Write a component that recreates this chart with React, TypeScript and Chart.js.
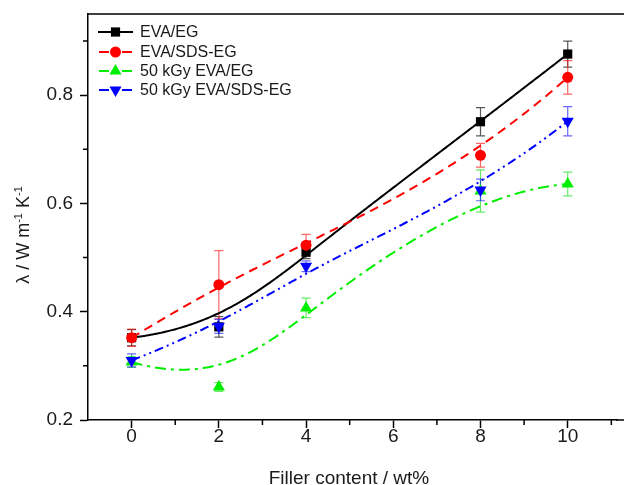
import React, { useEffect, useRef } from 'react';
import { Chart, registerables } from 'chart.js';

Chart.register(...registerables);

// ---- data ----
const xValues = [0, 2, 4, 8, 10];
const seriesNames = ['EVA/EG', 'EVA/SDS-EG', '50 kGy EVA/EG', '50 kGy EVA/SDS-EG'];
const evaEg = [0.352, 0.372, 0.51, 0.751, 0.876];
const evaEgErr = [0.015, 0.019, 0.012, 0.026, 0.024];
const evaSdsEg = [0.352, 0.45, 0.523, 0.689, 0.833];
const evaSdsEgErr = [0.016, 0.063, 0.02, 0.022, 0.031];
const irrEvaEg = [0.307, 0.261, 0.407, 0.623, 0.636];
const irrEvaEgErr = [0.01, 0.008, 0.018, 0.039, 0.022];
const irrEvaSdsEg = [0.31, 0.373, 0.484, 0.625, 0.752];
const irrEvaSdsEgErr = [0.012, 0.013, 0.01, 0.02, 0.027];
const xTicks = [0, 2, 4, 6, 8, 10];
const xMinorTicks = [1, 3, 5, 7, 9, 11];
const yTicks = [0.2, 0.4, 0.6, 0.8];
const yMinorTicks = [0.3, 0.5, 0.7, 0.9];

const seriesValues = [evaEg, evaSdsEg, irrEvaEg, irrEvaSdsEg];
const seriesErrors = [evaEgErr, evaSdsEgErr, irrEvaEgErr, irrEvaSdsEgErr];

// ---- styles ----
const colors = ['#000000', '#ff0000', '#00ee00', '#0000ff'];
const errColors = ['rgba(0,0,0,0.65)', 'rgba(255,0,0,0.6)', 'rgba(0,220,0,0.6)', 'rgba(0,0,255,0.6)'];
const dashes: number[][] = [[], [9, 6], [11, 5, 3, 5], [9, 4, 2, 4, 2, 4]];
const pointStyles = ['rect', 'circle', 'triangle', 'triangle'];
const pointRotations = [0, 0, 0, 180];
const pointRadii = [6.5, 5.5, 7, 7];
const FONT = '"Liberation Sans", Arial, sans-serif';
const TEXT = '#1a1a1a';

function bspline(px: number[], py: number[], samples = 240): [number, number][] {
  const n = px.length;
  const k = 3;
  if (n <= k) return px.map((x, i) => [x, py[i]]);
  const m = n - k;
  const knots: number[] = [];
  for (let i = 0; i <= k; i++) knots.push(0);
  for (let i = 1; i < m; i++) knots.push(i);
  for (let i = 0; i <= k; i++) knots.push(m);
  const N = (i: number, p: number, t: number): number => {
    if (p === 0) {
      if (knots[i] <= t && t < knots[i + 1]) return 1;
      if (t === m && knots[i] < t && knots[i + 1] === t) return 1;
      return 0;
    }
    let a = 0, b = 0;
    const d1 = knots[i + p] - knots[i];
    if (d1 > 0) a = ((t - knots[i]) / d1) * N(i, p - 1, t);
    const d2 = knots[i + p + 1] - knots[i + 1];
    if (d2 > 0) b = ((knots[i + p + 1] - t) / d2) * N(i + 1, p - 1, t);
    return a + b;
  };
  const out: [number, number][] = [];
  for (let s = 0; s <= samples; s++) {
    const t = (s / samples) * m;
    let x = 0, y = 0;
    for (let i = 0; i < n; i++) {
      const w = N(i, k, t);
      x += w * px[i];
      y += w * py[i];
    }
    out.push([x, y]);
  }
  return out;
}

function drawMarker(ctx: CanvasRenderingContext2D, idx: number, x: number, y: number) {
  const r = pointRadii[idx];
  ctx.save();
  ctx.fillStyle = colors[idx];
  ctx.beginPath();
  const style = pointStyles[idx];
  if (style === 'rect') {
    const h = Math.SQRT1_2 * r;
    ctx.rect(x - h, y - h, 2 * h, 2 * h);
  } else if (style === 'circle') {
    ctx.arc(x, y, r, 0, Math.PI * 2);
  } else {
    let rad = (pointRotations[idx] * Math.PI) / 180;
    ctx.moveTo(x + Math.sin(rad) * r, y - Math.cos(rad) * r);
    rad += (2 * Math.PI) / 3;
    ctx.lineTo(x + Math.sin(rad) * r, y - Math.cos(rad) * r);
    rad += (2 * Math.PI) / 3;
    ctx.lineTo(x + Math.sin(rad) * r, y - Math.cos(rad) * r);
    ctx.closePath();
  }
  ctx.fill();
  ctx.restore();
}

const decorPlugin = {
  id: 'decor',
  beforeDatasetsDraw(chart: any) {
    const ctx: CanvasRenderingContext2D = chart.ctx;
    const xs = chart.scales.x;
    const ys = chart.scales.y;
    const area = chart.chartArea;
    ctx.save();
    ctx.beginPath();
    ctx.rect(area.left, area.top, chart.width - area.left, area.bottom - area.top);
    ctx.clip();
    // error bars
    seriesValues.forEach((vals, si) => {
      ctx.save();
      ctx.strokeStyle = errColors[si];
      ctx.lineWidth = 1.2;
      vals.forEach((v, i) => {
        const px = xs.getPixelForValue(xValues[i]);
        const top = ys.getPixelForValue(v + seriesErrors[si][i]);
        const bot = ys.getPixelForValue(v - seriesErrors[si][i]);
        ctx.beginPath();
        ctx.moveTo(px, top);
        ctx.lineTo(px, bot);
        ctx.moveTo(px - 4.5, top);
        ctx.lineTo(px + 4.5, top);
        ctx.moveTo(px - 4.5, bot);
        ctx.lineTo(px + 4.5, bot);
        ctx.stroke();
      });
      ctx.restore();
    });
    // B-spline curves
    seriesValues.forEach((vals, si) => {
      const px = xValues.map((x) => xs.getPixelForValue(x));
      const py = vals.map((v) => ys.getPixelForValue(v));
      const pts = bspline(px, py);
      ctx.save();
      ctx.strokeStyle = colors[si];
      ctx.lineWidth = 2;
      ctx.setLineDash(dashes[si]);
      ctx.beginPath();
      pts.forEach(([x, y], i) => (i === 0 ? ctx.moveTo(x, y) : ctx.lineTo(x, y)));
      ctx.stroke();
      ctx.restore();
    });
    ctx.restore();
  },
  afterDraw(chart: any) {
    const ctx: CanvasRenderingContext2D = chart.ctx;
    const xs = chart.scales.x;
    const ys = chart.scales.y;
    const area = chart.chartArea;
    ctx.save();
    // frame lines extended to the canvas edge
    ctx.strokeStyle = '#000';
    ctx.lineWidth = 1.5;
    ctx.beginPath();
    ctx.moveTo(area.left, area.top);
    ctx.lineTo(chart.width, area.top);
    ctx.moveTo(area.right - 1, area.bottom);
    ctx.lineTo(chart.width, area.bottom);
    ctx.stroke();
    // minor ticks
    ctx.beginPath();
    xMinorTicks.forEach((v) => {
      const p = xs.getPixelForValue(v);
      if (p < area.left || p > chart.width) return;
      ctx.moveTo(p, area.bottom);
      ctx.lineTo(p, area.bottom + 5);
    });
    yMinorTicks.forEach((v) => {
      const p = ys.getPixelForValue(v);
      if (p < area.top || p > area.bottom) return;
      ctx.moveTo(area.left, p);
      ctx.lineTo(area.left - 5, p);
    });
    ctx.stroke();

    // x title
    ctx.fillStyle = TEXT;
    ctx.font = `19px ${FONT}`;
    ctx.textAlign = 'center';
    ctx.textBaseline = 'alphabetic';
    ctx.fillText('Filler content / wt%', 349, 484);

    // y title with superscripts
    ctx.save();
    ctx.translate(29, 235);
    ctx.rotate(-Math.PI / 2);
    const big = `18px ${FONT}`;
    const small = `11px ${FONT}`;
    const parts: [string, boolean][] = [
      ['λ / W m', false],
      ['-1', true],
      [' K', false],
      ['-1', true],
    ];
    let total = 0;
    parts.forEach(([t, sup]) => {
      ctx.font = sup ? small : big;
      total += ctx.measureText(t).width;
    });
    let cx = -total / 2;
    ctx.textAlign = 'left';
    parts.forEach(([t, sup]) => {
      ctx.font = sup ? small : big;
      ctx.fillText(t, cx, sup ? -7 : 0);
      cx += ctx.measureText(t).width;
    });
    ctx.restore();

    // legend
    const rowY = [32, 52, 71, 90];
    seriesNames.forEach((name, i) => {
      const y = rowY[i];
      ctx.save();
      ctx.strokeStyle = colors[i];
      ctx.lineWidth = 2;
      ctx.beginPath();
      if (i === 0) {
        ctx.moveTo(98, y);
        ctx.lineTo(133, y);
      } else {
        ctx.moveTo(99, y);
        ctx.lineTo(109, y);
        ctx.moveTo(122, y);
        ctx.lineTo(132, y);
      }
      ctx.stroke();
      ctx.restore();
      drawMarker(ctx, i, 115.5, y);
      ctx.fillStyle = TEXT;
      ctx.font = `16px ${FONT}`;
      ctx.textAlign = 'left';
      ctx.textBaseline = 'middle';
      ctx.fillText(name, 140, y + 1);
    });
    ctx.restore();
  },
};

export default function App() {
  const canvasRef = useRef<HTMLCanvasElement | null>(null);

  useEffect(() => {
    if (!canvasRef.current) return;
    const datasets = seriesNames.map((name, si) => ({
      label: name,
      data: xValues.map((x, i) => ({ x, y: seriesValues[si][i] })),
      showLine: false,
      pointStyle: pointStyles[si] as any,
      rotation: pointRotations[si],
      pointRadius: pointRadii[si],
      pointBackgroundColor: colors[si],
      pointBorderColor: colors[si],
      pointBorderWidth: 0,
      borderColor: colors[si],
      backgroundColor: colors[si],
      order: 4 - si,
    }));
    const chart = new Chart(canvasRef.current, {
      type: 'scatter',
      data: { datasets },
      options: {
        responsive: false,
        animation: false,
        devicePixelRatio: 1,
        layout: { padding: { top: 14, right: 0, left: 0, bottom: 0 } },
        plugins: { legend: { display: false }, tooltip: { enabled: false } },
        scales: {
          x: {
            type: 'linear',
            min: -1,
            max: 11.13,
            afterBuildTicks: (s: any) => {
              s.ticks = xTicks.map((v) => ({ value: v }));
            },
            afterFit: (s: any) => {
              s.height = 65;
              s.paddingLeft = 0;
              s.paddingRight = 0;
            },
            ticks: {
              font: { family: FONT, size: 19 },
              color: TEXT,
              padding: -3,
              maxRotation: 0,
              autoSkip: false,
              callback: (v: any) => String(v),
            },
            grid: {
              drawOnChartArea: false,
              drawTicks: true,
              tickLength: 8,
              tickWidth: 1.5,
              tickColor: '#000',
            },
            border: { display: true, color: '#000', width: 1.5 },
          },
          y: {
            type: 'linear',
            min: 0.2,
            max: 0.95,
            afterBuildTicks: (s: any) => {
              s.ticks = yTicks.map((v) => ({ value: v }));
            },
            afterFit: (s: any) => {
              s.width = 88;
              s.paddingTop = 0;
              s.paddingBottom = 0;
            },
            ticks: {
              font: { family: FONT, size: 19 },
              color: TEXT,
              padding: 7,
              autoSkip: false,
              callback: (v: any) => Number(v).toFixed(1),
            },
            grid: {
              drawOnChartArea: false,
              drawTicks: true,
              tickLength: 8,
              tickWidth: 1.5,
              tickColor: '#000',
            },
            border: { display: true, color: '#000', width: 1.5 },
          },
        },
      },
      plugins: [decorPlugin],
    });
    return () => chart.destroy();
  }, []);

  return (
    <div style={{ position: 'fixed', left: 0, top: 0, width: 624, height: 485, background: '#fff' }}>
      <canvas ref={canvasRef} width={624} height={485} />
    </div>
  );
}
